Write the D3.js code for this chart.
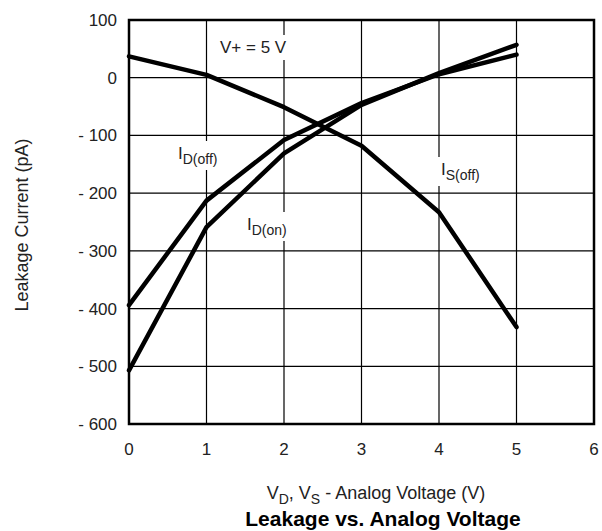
<!DOCTYPE html>
<html>
<head>
<meta charset="utf-8">
<script src="https://cdn.jsdelivr.net/npm/d3@7"></script>
<style>
  body { margin: 0; background: #fff; }
  text { font-family: "Liberation Sans", Arial, sans-serif; fill: #222; }
</style>
</head>
<body>
<div id="chart"></div>
<script>
// values (pA vs V)
const voltages = [0, 1, 2, 3, 4, 5];
const isOff = [37, 5, -51, -118, -233, -432];
const idOff = [-394, -213, -108, -44, 6, 40];
const idOn  = [-507, -259, -131, -47, 8, 57];
const xTicks = [0, 1, 2, 3, 4, 5, 6];
const yTicks = [100, 0, -100, -200, -300, -400, -500, -600];

const W = 602, H = 531;
const m = { left: 129, right: 594, top: 20, bottom: 424 };

const svg = d3.select("#chart").append("svg")
  .attr("width", W).attr("height", H);

const x = d3.scaleLinear().domain([0, 6]).range([m.left, m.right]);
const y = d3.scaleLinear().domain([-600, 100]).range([m.bottom, m.top]);

// grid
const grid = svg.append("g");
grid.selectAll(".vx").data(xTicks.slice(1, -1)).join("line")
  .attr("x1", d => x(d)).attr("x2", d => x(d))
  .attr("y1", m.top).attr("y2", m.bottom)
  .attr("stroke", "#000").attr("stroke-width", 1.2);
grid.selectAll(".hy").data(yTicks.slice(1, -1)).join("line")
  .attr("x1", m.left).attr("x2", m.right)
  .attr("y1", d => y(d)).attr("y2", d => y(d))
  .attr("stroke", "#000").attr("stroke-width", 1.2);

// tick labels
svg.append("g").selectAll("text").data(xTicks).join("text")
  .attr("x", d => x(d)).attr("y", 455)
  .attr("text-anchor", "middle").attr("font-size", 17)
  .text(d => d);
svg.append("g").selectAll("text").data(yTicks).join("text")
  .attr("x", 117).attr("y", d => y(d) + 6)
  .attr("text-anchor", "end").attr("font-size", 17)
  .text(d => d < 0 ? "- " + Math.abs(d) : d);

// curve labels (white box hides the grid behind them)
function label(px, py, main, sub) {
  const g = svg.append("g");
  const bg = g.append("rect").attr("fill", "#fff");
  const t = g.append("text").attr("x", px).attr("y", py).attr("font-size", 17);
  t.append("tspan").text(main);
  if (sub) t.append("tspan").attr("dy", 5).attr("font-size", 14).text(sub);
  const b = t.node().getBBox();
  bg.attr("x", b.x - 3).attr("y", b.y - 3).attr("width", b.width + 6).attr("height", b.height + 6);
}
label(220, 53, "V+ = 5 V");
label(178, 159, "I", "D(off)");
label(247, 230, "I", "D(on)");
label(441, 175, "I", "S(off)");

// curves
const line = d3.line().x((d, i) => x(voltages[i])).y(d => y(d));
svg.append("g").selectAll("path").data([isOff, idOff, idOn]).join("path")
  .attr("d", line)
  .attr("fill", "none").attr("stroke", "#000")
  .attr("stroke-width", 4.5).attr("stroke-linejoin", "round").attr("stroke-linecap", "round");

// frame
svg.append("rect")
  .attr("x", m.left).attr("y", m.top)
  .attr("width", m.right - m.left).attr("height", m.bottom - m.top)
  .attr("fill", "none").attr("stroke", "#000").attr("stroke-width", 2.5);

// axis titles
const xt = svg.append("text").attr("x", 376).attr("y", 499)
  .attr("text-anchor", "middle").attr("font-size", 18);
xt.append("tspan").text("V");
xt.append("tspan").attr("dy", 5).attr("font-size", 14).text("D");
xt.append("tspan").attr("dy", -5).text(", V");
xt.append("tspan").attr("dy", 5).attr("font-size", 14).text("S");
xt.append("tspan").attr("dy", -5).text(" -  Analog Voltage (V)");

svg.append("text")
  .attr("x", 383).attr("y", 526)
  .attr("text-anchor", "middle").attr("font-size", 21).attr("font-weight", "bold")
  .style("fill", "#000")
  .text("Leakage vs. Analog Voltage");

svg.append("text")
  .attr("transform", "translate(28,225) rotate(-90)")
  .attr("text-anchor", "middle").attr("font-size", 18)
  .text("Leakage Current (pA)");
</script>
</body>
</html>
